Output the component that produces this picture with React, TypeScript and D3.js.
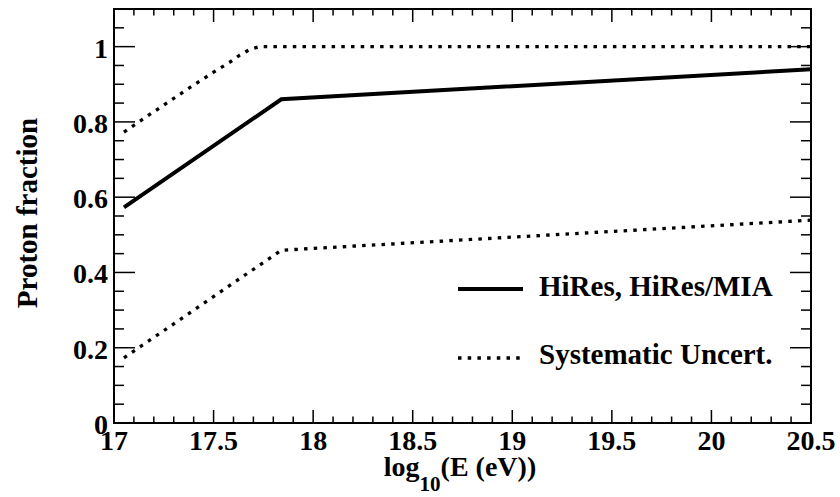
import React from "react";
import * as d3 from "d3";

// Data
const centralX = [17.05, 17.84, 20.5];
const centralY = [0.573, 0.86, 0.94];
const upperX = [17.05, 17.2, 17.4, 17.5, 17.58, 17.63, 17.68, 17.73, 20.5];
const upperY = [0.773, 0.827, 0.898, 0.932, 0.958, 0.977, 0.992, 1.0, 1.0];
const lowerX = [17.05, 17.84, 20.5];
const lowerY = [0.173, 0.459, 0.539];

const xMajorTicks = [17, 17.5, 18, 18.5, 19, 19.5, 20, 20.5];
const xTickLabels = ["17", "17.5", "18", "18.5", "19", "19.5", "20", "20.5"];
const yMajorTicks = [0, 0.2, 0.4, 0.6, 0.8, 1];
const yTickLabels = ["0", "0.2", "0.4", "0.6", "0.8", "1"];

const legendLabels = ["HiRes, HiRes/MIA", "Systematic Uncert."];

const W = 840;
const H = 497;
const L = 114, R = 811, T = 9, B = 423;

function ts(size: number): React.CSSProperties {
  return { fontFamily: '"Tinos"', fontWeight: "bold", fontSize: `${size}px` };
}

export default function App() {
  const x = d3.scaleLinear().domain([17, 20.5]).range([L, R]);
  const y = d3.scaleLinear().domain([0, 1.1]).range([B, T]);

  const line = d3.line<[number, number]>().x((d) => x(d[0])).y((d) => y(d[1]));
  const central = line(centralX.map((v, i) => [v, centralY[i]]) as [number, number][]) || "";
  const upper = line(upperX.map((v, i) => [v, upperY[i]]) as [number, number][]) || "";
  const lower = line(lowerX.map((v, i) => [v, lowerY[i]]) as [number, number][]) || "";

  const xMinor = d3.range(170, 206).map((v) => v / 10).filter((v) => Math.abs(v * 2 - Math.round(v * 2)) > 1e-6);
  const yMinor = d3.range(0, 23).map((v) => v * 0.05).filter((v) => v <= 1.1 && Math.abs(v * 5 - Math.round(v * 5)) > 1e-6);

  const dash = "3.5 6.2";

  return (
    <svg width={W} height={H} style={{ position: "absolute", left: 0, top: 0, fontFamily: '"Tinos"' }}>
      <g stroke="#000" strokeWidth={1.5}>
        {xMajorTicks.map((v, i) => (
          <g key={"xm" + i}>
            <line x1={x(v)} x2={x(v)} y1={B} y2={B - 13} />
            <line x1={x(v)} x2={x(v)} y1={T} y2={T + 13} />
          </g>
        ))}
        {xMinor.map((v, i) => (
          <g key={"xn" + i}>
            <line x1={x(v)} x2={x(v)} y1={B} y2={B - 6.5} />
            <line x1={x(v)} x2={x(v)} y1={T} y2={T + 6.5} />
          </g>
        ))}
        {yMajorTicks.map((v, i) => (
          <g key={"ym" + i}>
            <line x1={L} x2={L + 21} y1={y(v)} y2={y(v)} />
            <line x1={R} x2={R - 21} y1={y(v)} y2={y(v)} />
          </g>
        ))}
        {yMinor.map((v, i) => (
          <g key={"yn" + i}>
            <line x1={L} x2={L + 10} y1={y(v)} y2={y(v)} />
            <line x1={R} x2={R - 10} y1={y(v)} y2={y(v)} />
          </g>
        ))}
      </g>
      <path d={upper} fill="none" stroke="#000" strokeWidth={3.3} strokeDasharray={dash} />
      <path d={lower} fill="none" stroke="#000" strokeWidth={3.3} strokeDasharray={dash} />
      <path d={central} fill="none" stroke="#000" strokeWidth={4} />
      <rect x={L} y={T} width={R - L} height={B - T} fill="none" stroke="#000" strokeWidth={2} />

      {yMajorTicks.map((v, i) => (
        <text key={"yl" + i} x={108} y={y(v) + 11} textAnchor="end" style={ts(28)}>
          {yTickLabels[i]}
        </text>
      ))}
      {xMajorTicks.map((v, i) => (
        <text key={"xl" + i} x={x(v)} y={450} textAnchor="middle" style={ts(28)}>
          {xTickLabels[i]}
        </text>
      ))}
      <text x={460} y={476} textAnchor="middle" style={ts(28)}>
        <tspan>log</tspan>
        <tspan style={ts(21)} dy={15}>10</tspan>
        <tspan dy={-15}>(E (eV))</tspan>
      </text>
      <text transform={`translate(37, ${(T + B) / 2 - 3}) rotate(-90)`} textAnchor="middle" style={ts(29)}>
        Proton fraction
      </text>

      <line x1={458} x2={523} y1={289} y2={289} stroke="#000" strokeWidth={4} />
      <line x1={458} x2={520} y1={358} y2={358} stroke="#000" strokeWidth={3.3} strokeDasharray={dash} />
      <text x={539} y={296} style={ts(29)}>{legendLabels[0]}</text>
      <text x={539} y={364} style={ts(29)}>{legendLabels[1]}</text>
    </svg>
  );
}
